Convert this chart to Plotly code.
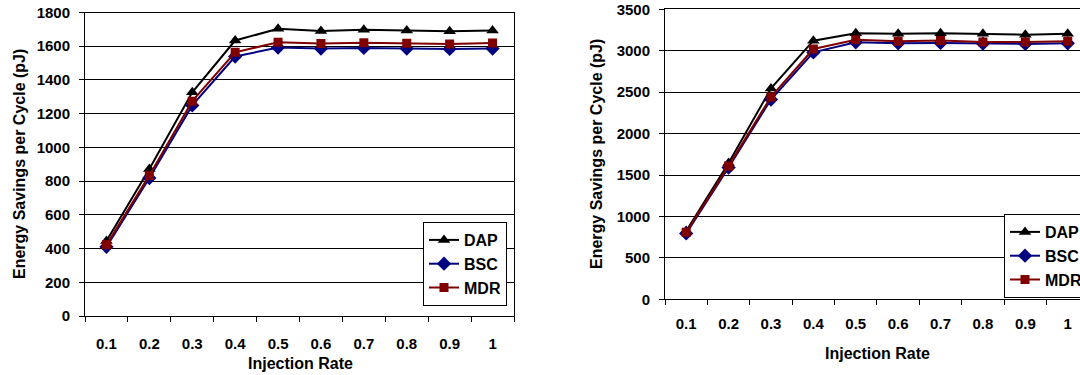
import plotly.graph_objects as go

rates = ["0.1", "0.2", "0.3", "0.4", "0.5", "0.6", "0.7", "0.8", "0.9", "1"]

left_dap = [445, 872, 1327, 1634, 1703, 1691, 1697, 1693, 1689, 1693]
left_bsc = [410, 818, 1249, 1539, 1592, 1586, 1590, 1586, 1584, 1586]
left_mdr = [422, 834, 1274, 1564, 1624, 1616, 1621, 1617, 1613, 1619]

right_dap = [825, 1645, 2545, 3121, 3212, 3205, 3212, 3205, 3193, 3205]
right_bsc = [795, 1590, 2411, 2980, 3102, 3090, 3094, 3086, 3082, 3090]
right_mdr = [809, 1610, 2443, 3021, 3131, 3114, 3122, 3106, 3106, 3114]

left_yticks = [0, 200, 400, 600, 800, 1000, 1200, 1400, 1600, 1800]
right_yticks = [0, 500, 1000, 1500, 2000, 2500, 3000, 3500]

W, H = 1080, 375
FONT = "Liberation Sans, Arial, sans-serif"

series = [
    ("DAP", "#000000", "triangle-up", 11),
    ("BSC", "#000080", "diamond", 11),
    ("MDR", "#800000", "square", 9),
]

fig = go.Figure()

for (name, color, sym, msize), ly, ry in zip(series, [left_dap, left_bsc, left_mdr],
                                               [right_dap, right_bsc, right_mdr]):
    fig.add_trace(go.Scatter(
        x=rates, y=ly, name=name, mode="lines+markers",
        line=dict(color=color, width=2),
        marker=dict(symbol=sym, size=msize, color=color),
        xaxis="x", yaxis="y", legend="legend",
    ))
    fig.add_trace(go.Scatter(
        x=rates, y=ry, name=name, mode="lines+markers",
        line=dict(color=color, width=2),
        marker=dict(symbol=sym, size=msize, color=color),
        xaxis="x2", yaxis="y2", legend="legend2",
    ))


def px_x(v):
    return v / W


def px_y(v):
    return 1 - v / H


tickfont = dict(family=FONT, size=15, color="black", weight="bold")
axis_common = dict(
    showline=True, linecolor="black", linewidth=1,
    ticks="outside", ticklen=5, tickcolor="black", tickwidth=1,
    tickfont=tickfont, zeroline=False, fixedrange=True,
)

legend_font = dict(family=FONT, size=16, color="black", weight="bold")

fig.update_layout(
    width=W, height=H,
    margin=dict(l=0, r=0, t=0, b=0, autoexpand=False),
    paper_bgcolor="white", plot_bgcolor="white",
    showlegend=True,
    xaxis=dict(
        domain=[px_x(85), px_x(514)], anchor="y", type="category",
        tickson="boundaries", range=[-0.5, 9.5], mirror=True,
        showgrid=False, ticklabelstandoff=14, **axis_common,
    ),
    yaxis=dict(
        domain=[px_y(316), px_y(12.5)], anchor="x", range=[0, 1800],
        tickvals=left_yticks, mirror=True, ticklabelstandoff=6,
        showgrid=True, gridcolor="black", gridwidth=1, **axis_common,
    ),
    xaxis2=dict(
        domain=[px_x(665), 1.0], anchor="y2", type="category",
        tickson="boundaries", range=[-0.5, 9.29], mirror=True,
        showgrid=False, ticklabelstandoff=11, **axis_common,
    ),
    yaxis2=dict(
        domain=[px_y(299.3), px_y(9.3)], anchor="x2", range=[0, 3500],
        tickvals=right_yticks, ticklabelstandoff=6,
        showgrid=True, gridcolor="black", gridwidth=1, **axis_common,
    ),
    legend=dict(
        x=px_x(423), y=px_y(222), xanchor="left", yanchor="top",
        bgcolor="white", bordercolor="black", borderwidth=1,
        font=legend_font, itemwidth=30, tracegroupgap=0,
    ),
    legend2=dict(
        x=px_x(1004), y=px_y(214), xanchor="left", yanchor="top",
        bgcolor="white", bordercolor="black", borderwidth=1,
        font=legend_font, itemwidth=30, tracegroupgap=0,
    ),
)

title_font = dict(family=FONT, size=16, color="black", weight="bold")
fig.add_annotation(text="Injection Rate", x=px_x(300), y=px_y(363), xref="paper", yref="paper",
                   showarrow=False, font=title_font, xanchor="center", yanchor="middle")
fig.add_annotation(text="Injection Rate", x=px_x(877), y=px_y(353), xref="paper", yref="paper",
                   showarrow=False, font=title_font, xanchor="center", yanchor="middle")
fig.add_annotation(text="Energy Savings per Cycle (pJ)", x=px_x(19), y=px_y(164), xref="paper",
                   yref="paper", showarrow=False, font=title_font, textangle=-90,
                   xanchor="center", yanchor="middle")
fig.add_annotation(text="Energy Savings per Cycle (pJ)", x=px_x(596), y=px_y(154), xref="paper",
                   yref="paper", showarrow=False, font=title_font, textangle=-90,
                   xanchor="center", yanchor="middle")

fig.write_html("out.html", config={"displayModeBar": False})
